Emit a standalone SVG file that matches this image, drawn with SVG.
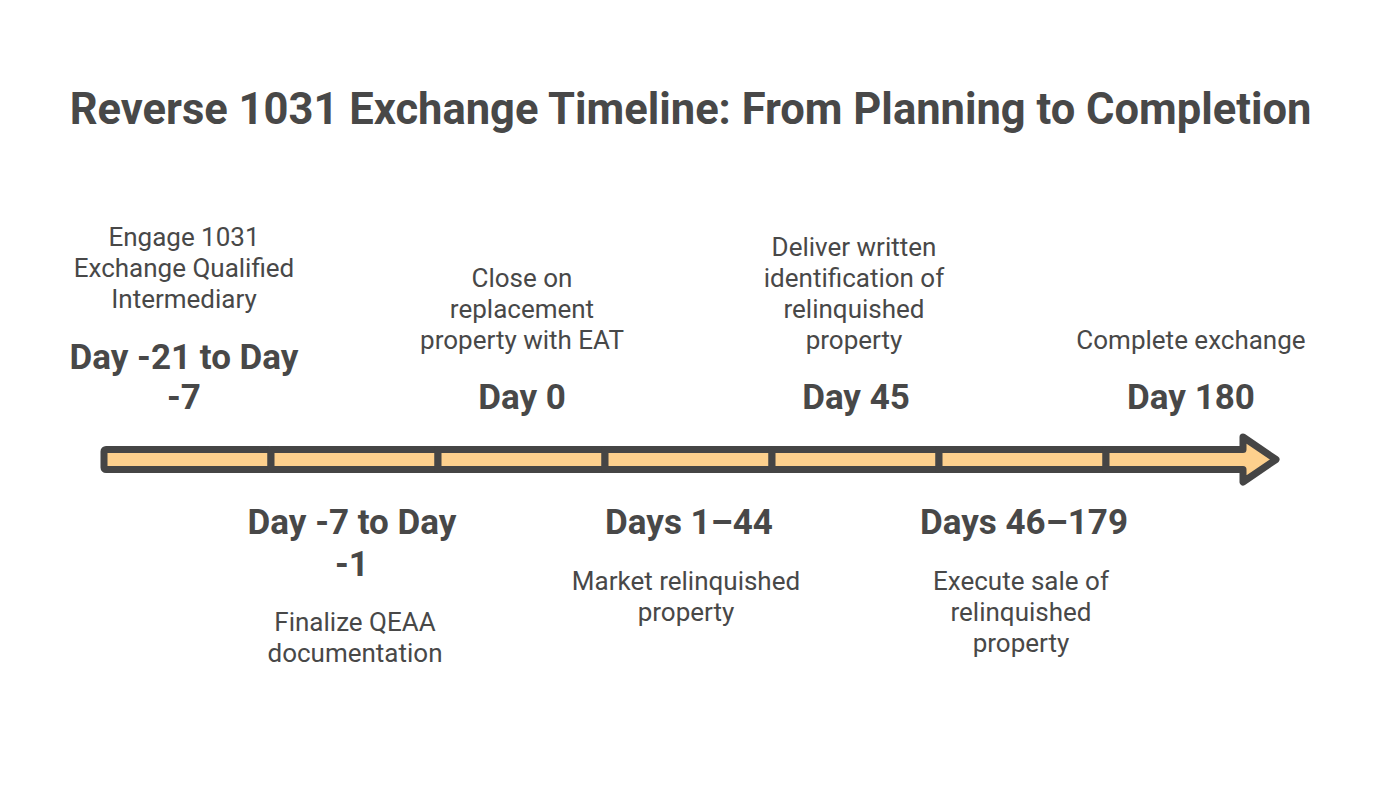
<svg xmlns="http://www.w3.org/2000/svg" width="1379" height="794" viewBox="0 0 1379 794">
<style>
  .title{font-family:Roboto,"Liberation Sans",sans-serif;font-weight:700;font-size:43.5px;fill:#484848}
  .day{font-family:Roboto,"Liberation Sans",sans-serif;font-weight:700;font-size:35px;fill:#484848;text-anchor:middle}
  .desc{font-family:Roboto,"Liberation Sans",sans-serif;font-size:26px;fill:#484848;text-anchor:middle}
  .seg{fill:#FDD08D;stroke:#454545;stroke-width:7;stroke-linejoin:round}
</style>
<rect width="1379" height="794" fill="#fff"/>
<text class="title" x="690.5" y="124" text-anchor="middle">Reverse 1031 Exchange Timeline: From Planning to Completion</text>

<g id="timeline">
  <rect class="seg" x="104" y="449.5" width="167" height="20" rx="2"/>
  <rect class="seg" x="271" y="449.5" width="167" height="20"/>
  <rect class="seg" x="438" y="449.5" width="167" height="20"/>
  <rect class="seg" x="605" y="449.5" width="167" height="20"/>
  <rect class="seg" x="772" y="449.5" width="167" height="20"/>
  <rect class="seg" x="939" y="449.5" width="167" height="20"/>
  <path class="seg" d="M1106,449.5 L1243,449.5 L1243,437 L1276,459.5 L1243,482 L1243,469.5 L1106,469.5 Z"/>
</g>

<g id="node1">
  <text class="desc" x="184" y="245.5">Engage 1031</text>
  <text class="desc" x="184" y="276.5">Exchange Qualified</text>
  <text class="desc" x="184" y="307.5">Intermediary</text>
  <text class="day" x="184" y="369">Day -21 to Day</text>
  <text class="day" x="184" y="409">-7</text>
</g>
<g id="node2">
  <text class="day" x="352" y="534">Day -7 to Day</text>
  <text class="day" x="352" y="576">-1</text>
  <text class="desc" x="355" y="630.5">Finalize QEAA</text>
  <text class="desc" x="355" y="661.5">documentation</text>
</g>
<g id="node3">
  <text class="desc" x="522" y="286.5">Close on</text>
  <text class="desc" x="522" y="317.5">replacement</text>
  <text class="desc" x="522" y="348.5">property with EAT</text>
  <text class="day" x="522" y="409">Day 0</text>
</g>
<g id="node4">
  <text class="day" x="689" y="534">Days 1–44</text>
  <text class="desc" x="686" y="589.5">Market relinquished</text>
  <text class="desc" x="686" y="620.5">property</text>
</g>
<g id="node5">
  <text class="desc" x="854" y="255.5">Deliver written</text>
  <text class="desc" x="854" y="286.5">identification of</text>
  <text class="desc" x="854" y="317.5">relinquished</text>
  <text class="desc" x="854" y="348.5">property</text>
  <text class="day" x="856" y="409">Day 45</text>
</g>
<g id="node6">
  <text class="day" x="1024" y="534">Days 46–179</text>
  <text class="desc" x="1021" y="589.5">Execute sale of</text>
  <text class="desc" x="1021" y="620.5">relinquished</text>
  <text class="desc" x="1021" y="651.5">property</text>
</g>
<g id="node7">
  <text class="desc" x="1191" y="348.5">Complete exchange</text>
  <text class="day" x="1191" y="409">Day 180</text>
</g>
</svg>
